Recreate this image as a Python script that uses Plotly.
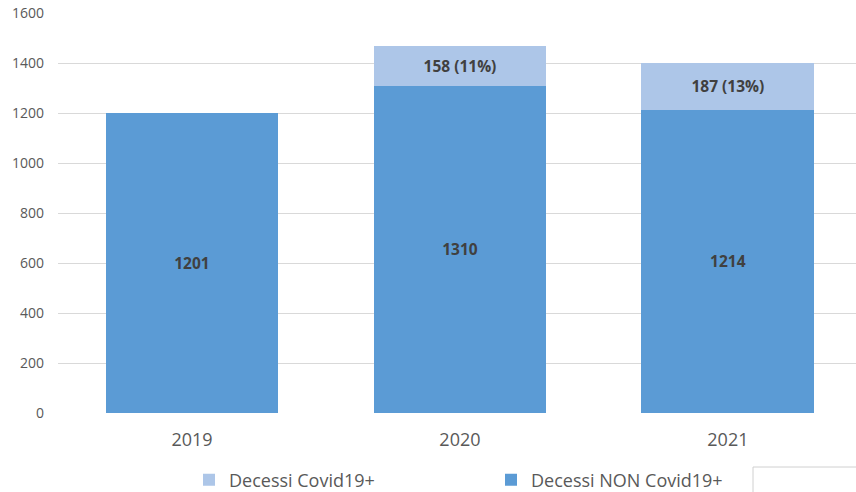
import plotly.graph_objects as go

years = ["2019", "2020", "2021"]
non_covid = [1201, 1310, 1214]
covid = [0, 158, 187]
covid_pct = [None, 11, 13]

non_labels = [str(v) for v in non_covid]
covid_labels = ["" if p is None else f"{v} ({p}%)" for v, p in zip(covid, covid_pct)]

C_NON = "#5B9BD5"
C_COV = "#ADC6E8"
FONT = "Open Sans"

fig = go.Figure()
fig.add_trace(go.Bar(
    x=years, y=non_covid, name="Decessi NON Covid19+",
    marker=dict(color=C_NON, line=dict(width=0)),
    text=non_labels, textposition="inside", insidetextanchor="middle",
    textfont=dict(family=FONT, size=15.5, color="#404040", weight="bold"),
    width=0.645, legendrank=2,
))
fig.add_trace(go.Bar(
    x=years, y=covid, name="Decessi Covid19+",
    marker=dict(color=C_COV, line=dict(width=0)),
    text=covid_labels, textposition="inside", insidetextanchor="middle",
    textfont=dict(family=FONT, size=15.5, color="#404040", weight="bold"),
    width=0.645, legendrank=1,
))

fig.update_layout(
    barmode="stack",
    width=856, height=492,
    margin=dict(l=58, r=0, t=13, b=79, autoexpand=False),
    plot_bgcolor="white", paper_bgcolor="white",
    font=dict(family=FONT, color="#595959"),
    uniformtext=dict(mode="show", minsize=8),
    xaxis=dict(
        type="category", range=[-0.5, 2.478], automargin=False,
        showgrid=False, showline=False, zeroline=False,
        tickfont=dict(size=18, color="#595959"),
        ticklabelstandoff=14,
    ),
    yaxis=dict(
        range=[0, 1600], dtick=200, automargin=False,
        showgrid=True, gridcolor="#D9D9D9", gridwidth=1,
        zeroline=False, showline=False,
        tickfont=dict(size=14, color="#595959"),
        ticklabelstandoff=13,
    ),
    legend=dict(
        orientation="h", xref="paper", yref="paper",
        x=(189-58)/798, y=(413-480)/400, xanchor="left", yanchor="middle",
        font=dict(size=18, color="#595959"),
        entrywidth=257, entrywidthmode="pixels",
        traceorder="normal", itemclick=False,
        bgcolor="rgba(0,0,0,0)",
    ),
    shapes=[dict(
        type="rect", xref="paper", yref="paper",
        x0=(753-58)/798, x1=1.01, y0=-0.22, y1=(413-467)/400,
        line=dict(color="#D0D0D0", width=1), fillcolor="rgba(0,0,0,0)",
    )],
)

fig.write_html(
    "out.html",
    config={"displayModeBar": False},
    post_script="document.body.style.margin='0';document.body.style.padding='0';",
)
